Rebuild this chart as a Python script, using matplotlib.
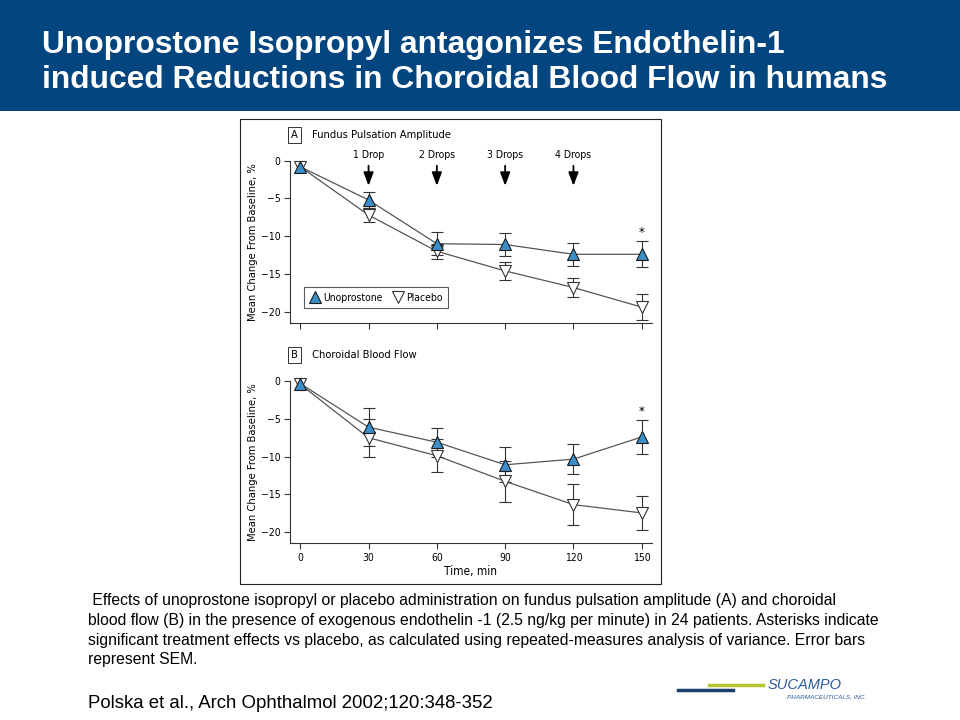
import matplotlib
matplotlib.use('Agg')
import matplotlib.pyplot as plt
from matplotlib.lines import Line2D
from matplotlib.patches import Rectangle
from matplotlib import font_manager

# data
time = [0, 30, 60, 90, 120, 150]

fpa_uno = [-0.8, -5.2, -11.0, -11.1, -12.4, -12.4]
fpa_uno_sem = [0.0, 1.0, 1.5, 1.5, 1.5, 1.7]
fpa_pla = [-0.8, -7.2, -12.0, -14.6, -16.8, -19.4]
fpa_pla_sem = [0.0, 0.9, 1.0, 1.2, 1.3, 1.7]

cbf_uno = [-0.3, -6.1, -8.1, -11.1, -10.35, -7.4]
cbf_uno_sem = [0.0, 2.5, 1.9, 2.3, 1.95, 2.25]
cbf_pla = [-0.4, -7.5, -9.9, -13.3, -16.4, -17.5]
cbf_pla_sem = [0.0, 2.5, 2.2, 2.7, 2.7, 2.3]

drop_times = [30, 60, 90, 120]
drop_labels = ['1 Drop', '2 Drops', '3 Drops', '4 Drops']

W, H = 960, 720
arial = ['Liberation Sans', 'DejaVu Sans']

# condensed face for the figure taken from the paper
names = {f.name for f in font_manager.fontManager.ttflist}
if 'Liberation Sans Narrow' in names:
    cond = dict(family='Liberation Sans Narrow')
else:
    cond = dict(family='DejaVu Sans', stretch='condensed')

fig = plt.figure(figsize=(9.6, 7.2), dpi=100)
fig.patch.set_facecolor('white')


def px_axes(l, t, r, b):
    ax = fig.add_axes([l / W, 1 - b / H, (r - l) / W, (b - t) / H])
    ax.patch.set_alpha(0)
    return ax


# title banner
fig.patches.append(Rectangle((0, 1 - 111 / H), 1, 111 / H, transform=fig.transFigure,
                             facecolor='#03457f', edgecolor='none', zorder=-2))
fig.text(42 / W, 1 - 45 / H, 'Unoprostone Isopropyl antagonizes Endothelin-1',
         color='white', fontsize=22.9, fontweight='bold', family=arial, va='center')
fig.text(42 / W, 1 - 80 / H, 'induced Reductions in Choroidal Blood Flow in humans',
         color='white', fontsize=22.9, fontweight='bold', family=arial, va='center')

# frame around the figure from the paper
fig.patches.append(Rectangle((240 / W, 1 - 584 / H), 421 / W, 465 / H, transform=fig.transFigure,
                             facecolor='white', edgecolor='#222222', lw=0.8, zorder=-1))

uno_color = '#3b8fc8'
line_color = '#555555'


def panel(ax, uno, uno_sem, pla, pla_sem, star_y, show_x):
    ax.plot(time, pla, color=line_color, lw=0.9, zorder=2)
    ax.plot(time, uno, color=line_color, lw=0.9, zorder=2)
    ax.errorbar(time[1:], pla[1:], yerr=pla_sem[1:], fmt='none', ecolor='#333333', elinewidth=0.8,
                capsize=4, capthick=0.8, zorder=3, clip_on=False)
    ax.errorbar(time[1:], uno[1:], yerr=uno_sem[1:], fmt='none', ecolor='#333333', elinewidth=0.8,
                capsize=4, capthick=0.8, zorder=3, clip_on=False)
    ax.plot(time, pla, 'v', ms=9, mfc='white', mec='#333333', mew=0.8, zorder=4, clip_on=False)
    ax.plot(time, uno, '^', ms=9, mfc=uno_color, mec='#1a1a1a', mew=0.8, zorder=5, clip_on=False)
    ax.text(150, star_y, '*', ha='center', va='center', fontsize=9.5, **cond)

    ax.set_xlim(-4.5, 154.5)
    ax.set_ylim(-21.5, 0)
    ax.spines['top'].set_visible(False)
    ax.spines['right'].set_visible(False)
    for s in ('left', 'bottom'):
        ax.spines[s].set_linewidth(0.8)
        ax.spines[s].set_color('#333333')
    ax.set_yticks([0, -5, -10, -15, -20])
    ax.set_yticklabels(['0', '\u22125', '\u221210', '\u221215', '\u221220'])
    ax.set_xticks(time)
    if show_x:
        ax.set_xticklabels([str(t) for t in time])
        ax.set_xlabel('Time, min', fontsize=8.5, labelpad=2, **cond)
    else:
        ax.set_xticklabels([])
    ax.tick_params(direction='out', length=4, width=0.8, color='#333333',
                   labelsize=7.5, pad=3)
    for lab in ax.get_xticklabels() + ax.get_yticklabels():
        lab.set_family(cond['family'])
        if 'stretch' in cond:
            lab.set_stretch(cond['stretch'])
    ax.set_ylabel('Mean Change From Baseline, %', fontsize=8, labelpad=2, **cond)


# panel A
axA = px_axes(290, 160.7, 652, 323)
panel(axA, fpa_uno, fpa_uno_sem, fpa_pla, fpa_pla_sem, -9.5, False)
axA.text(-2.5, 3.4, 'A', fontsize=8, va='center', ha='center',
         bbox=dict(boxstyle='square,pad=0.25', fc='white', ec='#333333', lw=0.7), **cond)
axA.text(5.3, 3.4, 'Fundus Pulsation Amplitude', fontsize=8, va='center', **cond)
for t, lab in zip(drop_times, drop_labels):
    axA.text(t, 0.75, lab, ha='center', va='center', fontsize=7.5, **cond)
    axA.annotate('', xy=(t, -3.7), xytext=(t, -0.3), annotation_clip=False,
                 arrowprops=dict(arrowstyle='-|>,head_length=0.8,head_width=0.3',
                                 color='black', lw=1.3))
handles = [Line2D([], [], ls='none', marker='^', ms=8, mfc=uno_color, mec='#1a1a1a', mew=0.8),
           Line2D([], [], ls='none', marker='v', ms=8, mfc='white', mec='#333333', mew=0.8)]
legprop = {'size': 7.5}
legprop.update(cond)
leg = axA.legend(handles, ['Unoprostone', 'Placebo'], loc='lower left',
                 bbox_to_anchor=(9.0 / 362, 10.0 / 162.3), ncol=2, frameon=True,
                 fancybox=False, edgecolor='#333333', handletextpad=0.3, columnspacing=1.0,
                 borderpad=0.5, handlelength=1.0, prop=legprop)
leg.get_frame().set_linewidth(0.8)

# panel B
axB = px_axes(290, 381.3, 652, 543)
panel(axB, cbf_uno, cbf_uno_sem, cbf_pla, cbf_pla_sem, -4.0, True)
axB.text(-2.5, 3.5, 'B', fontsize=8, va='center', ha='center',
         bbox=dict(boxstyle='square,pad=0.25', fc='white', ec='#333333', lw=0.7), **cond)
axB.text(5.3, 3.5, 'Choroidal Blood Flow', fontsize=8, va='center', **cond)

# caption
caption = [' Effects of unoprostone isopropyl or placebo administration on fundus pulsation amplitude (A) and choroidal',
           'blood flow (B) in the presence of exogenous endothelin -1 (2.5 ng/kg per minute) in 24 patients. Asterisks indicate',
           'significant treatment effects vs placebo, as calculated using repeated-measures analysis of variance. Error bars',
           'represent SEM.']
for i, line in enumerate(caption):
    fig.text(88 / W, 1 - (601 + 19.6 * i) / H, line, fontsize=11.35, family=arial, va='center')
fig.text(88 / W, 1 - 703 / H, 'Polska et al., Arch Ophthalmol 2002;120:348-352',
         fontsize=13.4, family=arial, va='center')

# logo
fig.add_artist(Line2D([678 / W, 733 / W], [1 - 690 / H, 1 - 690 / H], color='#1d3f6e', lw=2.5,
                      transform=fig.transFigure))
fig.add_artist(Line2D([709 / W, 763 / W], [1 - 685 / H, 1 - 685 / H], color='#b5c532', lw=2.5,
                      transform=fig.transFigure))
fig.text(768 / W, 1 - 685 / H, 'SUCAMPO', fontsize=10.5, style='italic', color='#2a5a9c',
         family=arial, va='center')
fig.text(787 / W, 1 - 697 / H, 'PHARMACEUTICALS, INC.', fontsize=4.6, style='italic',
         color='#2a5a9c', family=arial, va='center')

fig.savefig('out.png', dpi=100)
